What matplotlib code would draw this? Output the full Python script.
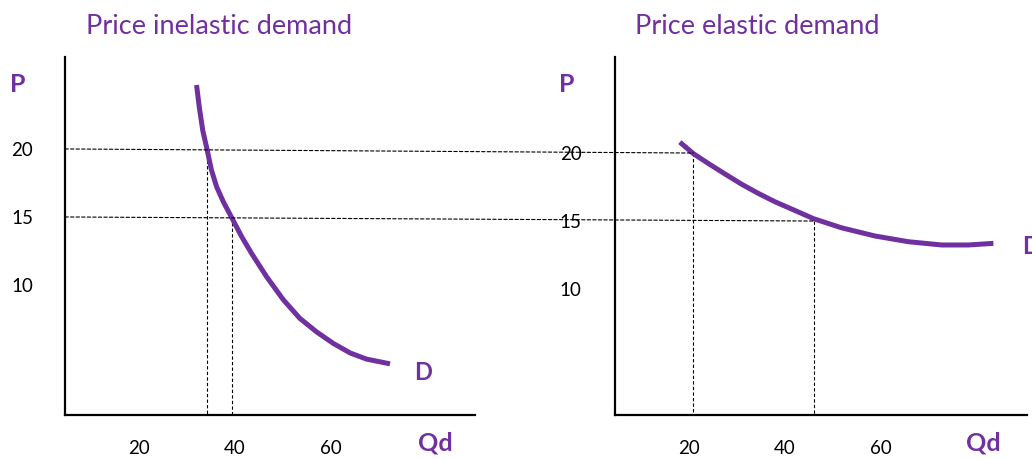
import matplotlib.pyplot as plt
from matplotlib.patches import ConnectionPatch

W, H = 1032, 459
PURPLE = '#7030a0'
plt.rcParams['font.family'] = ['Lato', 'DejaVu Sans']

# price and quantity ticks
price_ticks = [10, 15, 20]
qty_ticks = [20, 40, 60]
price_levels = [20, 15]

# inelastic demand curve (Qd, P)
inel_q = [32.0, 32.6, 33.3, 34.2, 35.1, 36.2, 37.6, 39.4, 41.4, 43.5,
          46.6, 50.1, 53.5, 57.0, 60.5, 64.0, 67.4, 72.3]
inel_p = [24.7, 23.0, 21.35, 19.95, 18.45, 17.2, 16.1, 14.9, 13.55, 12.3,
          10.6, 8.9, 7.55, 6.55, 5.7, 5.0, 4.55, 4.2]
inel_qd = [34.2, 39.4]   # quantity demanded at P=20 and P=15

# elastic demand curve (Qd, P)
el_q = [18.1, 20.9, 24.0, 27.5, 31.0, 34.4, 37.9, 41.4, 45.9, 51.8,
        58.75, 65.7, 72.6, 78.2, 83.4]
el_p = [20.8, 19.96, 19.24, 18.46, 17.7, 17.04, 16.42, 15.88, 15.18, 14.5,
        13.9, 13.48, 13.24, 13.24, 13.36]
el_qd = [20.9, 46.0]


def px_box(l, t, r, b):
    return [l / W, 1 - b / H, (r - l) / W, (b - t) / H]


def fig_text(x, y, s, **kw):
    fig.text(x / W, 1 - y / H, s, ha='center', va='center', **kw)


fig = plt.figure(figsize=(W / 100, H / 100), dpi=100)
ax1 = fig.add_axes(px_box(65, 57, 475, 415))
ax2 = fig.add_axes(px_box(615, 57, 1027, 415))

ax1.set_xlim(4.6, 90.0)
ax1.set_ylim(0.44, 26.76)
ax2.set_xlim(4.6, 90.4)
ax2.set_ylim(0.74, 27.06)

for ax, pad_y in [(ax1, 23), (ax2, 24)]:
    ax.spines['top'].set_visible(False)
    ax.spines['right'].set_visible(False)
    ax.spines['left'].set_linewidth(1.6)
    ax.spines['bottom'].set_linewidth(1.6)
    ax.set_xticks(qty_ticks)
    ax.set_yticks(price_ticks)
    ax.tick_params(axis='both', length=0, labelsize=13.5, colors='black')
    ax.tick_params(axis='y', pad=pad_y)
    ax.tick_params(axis='x', pad=18)
    ax.patch.set_alpha(0)

dash = (0, (3, 2))

# demand curves
for ax, q, p in [(ax1, inel_q, inel_p), (ax2, el_q, el_p)]:
    ax.plot(q, p, color=PURPLE, lw=3.6, solid_capstyle='butt',
            solid_joinstyle='round', zorder=3)

# vertical dashed guides
for ax, qs in [(ax1, inel_qd), (ax2, el_qd)]:
    ylo = ax.get_ylim()[0]
    for q, p in zip(qs, price_levels):
        ax.plot([q, q], [p, ylo], color='black', lw=0.8, ls=dash, zorder=2)

# horizontal dashed guides spanning both panels
xlo = ax1.get_xlim()[0]
for q2, p in zip(el_qd, price_levels):
    con = ConnectionPatch(xyA=(xlo, p), coordsA=ax1.transData,
                          xyB=(q2, p), coordsB=ax2.transData,
                          color='black', lw=0.8, linestyle=dash)
    fig.add_artist(con)

# titles and labels
fig_text(219, 27, 'Price inelastic demand', color=PURPLE, fontsize=19.5)
fig_text(757, 27, 'Price elastic demand', color=PURPLE, fontsize=19.5)
for x in (18, 567):
    fig_text(x, 85, 'P', color=PURPLE, fontsize=18, fontweight='bold')
for x in (435, 983):
    fig_text(x, 443, 'Qd', color=PURPLE, fontsize=18, fontweight='bold')
fig_text(423, 372, 'D', color=PURPLE, fontsize=17, fontweight='bold')
fig_text(1031, 246, 'D', color=PURPLE, fontsize=17, fontweight='bold')

fig.savefig('out.png', dpi=100)
